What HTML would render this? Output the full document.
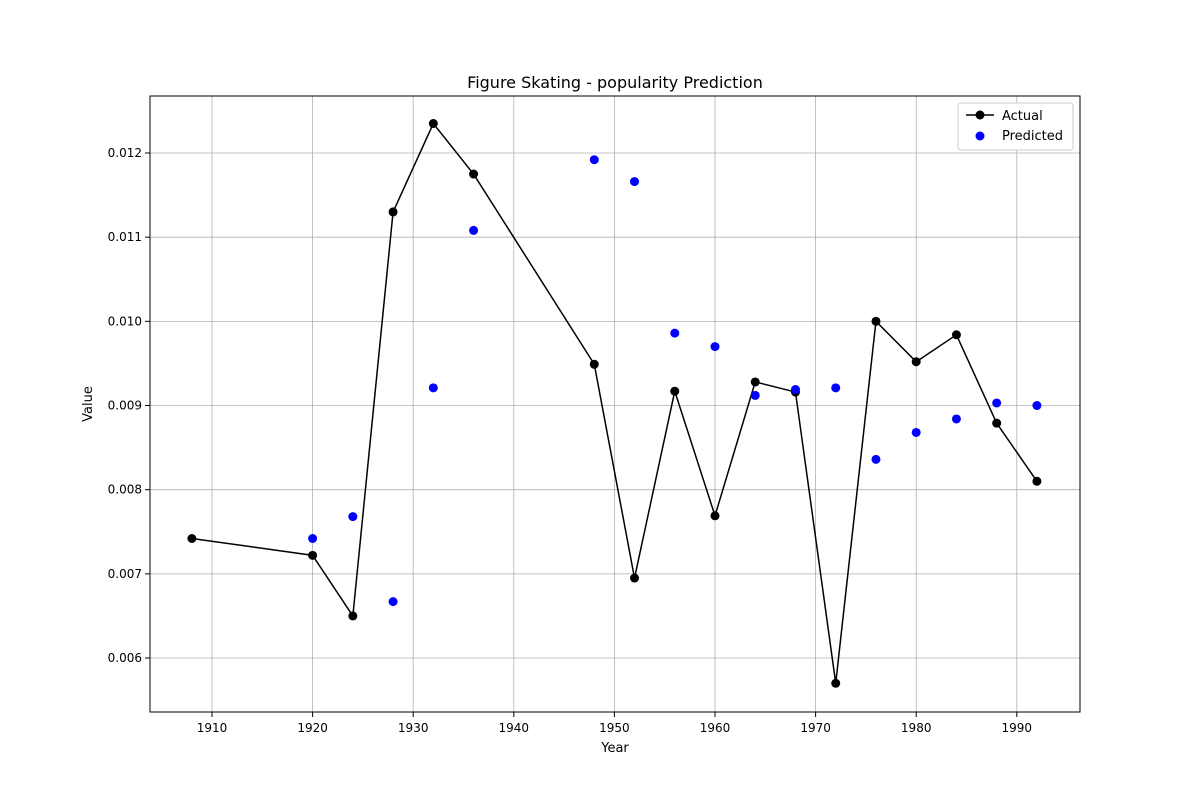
<!DOCTYPE html>
<html><head><meta charset="utf-8"><style>
body{margin:0;background:#fff;}
text{font-family:"DejaVu Sans","Liberation Sans",sans-serif;fill:#000;}
</style></head><body>
<svg id="chart" width="1200" height="800" xmlns="http://www.w3.org/2000/svg">
<rect width="1200" height="800" fill="#fff"/>
<g id="grid"></g>
<g id="axes"></g>
<g id="marks"></g>
<text x="615" y="88" font-size="16" text-anchor="middle">Figure Skating - popularity Prediction</text>
<text x="615" y="752" font-size="13" text-anchor="middle">Year</text>
<text x="92" y="404" font-size="13" text-anchor="middle" transform="rotate(-90 92 404)">Value</text>
<g>
<rect x="958" y="103" width="115" height="47" fill="#fff" stroke="#ccc" rx="3"/>
<line x1="966" y1="115" x2="994" y2="115" stroke="#000" stroke-width="1.5"/>
<circle cx="980" cy="115" r="4.5" fill="#000"/>
<text x="1002" y="120" font-size="13">Actual</text>
<circle cx="980" cy="136" r="4.5" fill="#0000ff"/>
<text x="1002" y="140" font-size="13">Predicted</text>
</g>
</svg>
<script>
const years=[1908,1920,1924,1928,1932,1936,1948,1952,1956,1960,1964,1968,1972,1976,1980,1984,1988,1992];
const actual=[0.00742,0.00722,0.00650,0.01130,0.01235,0.01175,0.00949,0.00695,0.00917,0.00769,0.00928,0.00916,0.00570,0.01000,0.00952,0.00984,0.00879,0.00810];
const predYears=[1920,1924,1928,1932,1936,1948,1952,1956,1960,1964,1968,1972,1976,1980,1984,1988,1992];
const predicted=[0.00742,0.00768,0.00667,0.00921,0.01108,0.01192,0.01166,0.00986,0.00970,0.00912,0.00919,0.00921,0.00836,0.00868,0.00884,0.00903,0.00900];
const xTicks=[1910,1920,1930,1940,1950,1960,1970,1980,1990];
const yTicks=[0.006,0.007,0.008,0.009,0.010,0.011,0.012];
const L=150,R=1080,T=96,B=712;
const X=v=>212+(v-1910)*10.06;
const Y=v=>153+(0.012-v)*84170;
const NS="http://www.w3.org/2000/svg";
function mk(tag,attrs,parent){const e=document.createElementNS(NS,tag);for(const k in attrs)e.setAttribute(k,attrs[k]);document.getElementById(parent).appendChild(e);return e;}
xTicks.forEach(t=>{
 const g=mk('line',{x1:X(t),x2:X(t),y1:T,y2:B,stroke:'#b0b0b0','stroke-width':0.8},'grid');
 
 
 mk('line',{x1:X(t),x2:X(t),y1:B,y2:B+5,stroke:'#000'},'axes');
 const tx=mk('text',{x:X(t),y:B+20,'font-size':12,'text-anchor':'middle'},'axes');
 tx.textContent=t;
 
 
});
yTicks.forEach(t=>{
 const g=mk('line',{x1:L,x2:R,y1:Y(t),y2:Y(t),stroke:'#b0b0b0','stroke-width':0.8},'grid');
 
 
 mk('line',{x1:L-5,x2:L,y1:Y(t),y2:Y(t),stroke:'#000'},'axes');
 const tx=mk('text',{x:L-8,y:Y(t)+4,'font-size':12,'text-anchor':'end'},'axes');
 tx.textContent=t.toFixed(3);
 
 
});
const fr=mk('rect',{x:L,y:T,width:R-L,height:B-T,fill:'none',stroke:'#000','stroke-width':1},'axes');


const pl=mk('polyline',{points:years.map((y,i)=>X(y)+','+Y(actual[i])).join(' '),fill:'none',stroke:'#000','stroke-width':1.5},'marks');


years.forEach((y,i)=>{
 const c=mk('circle',{cx:X(y),cy:Y(actual[i]),r:4.5,fill:'#000'},'marks');
 
 
});
predYears.forEach((y,i)=>{
 const c=mk('circle',{cx:X(y),cy:Y(predicted[i]),r:4.5,fill:'#0000ff'},'marks');
 
 
});
</script>
</body></html>
